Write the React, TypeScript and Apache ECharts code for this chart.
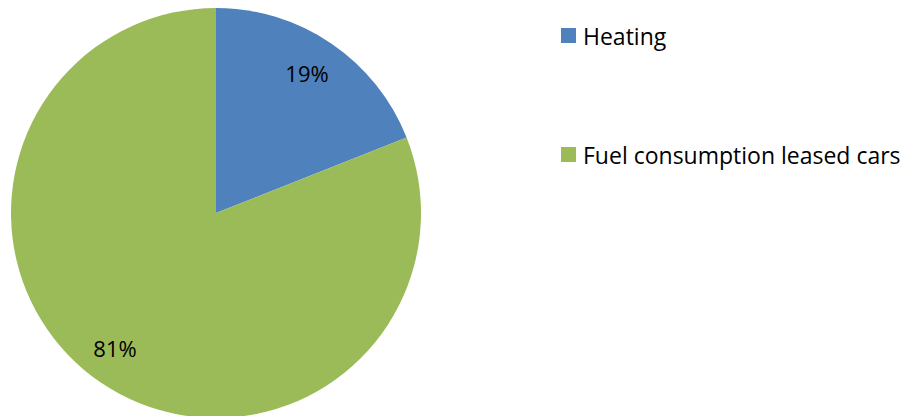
import React, { useEffect, useRef } from "react";
import * as echarts from "echarts";

const categories = ["Heating", "Fuel consumption leased cars"];
const values = [19, 81];
const colors = ["#4F81BD", "#9BBB59"];
const labelOffsets = [[-4, 0], [-6, -5]];

export default function App() {
  const ref = useRef<HTMLDivElement>(null);
  useEffect(() => {
    document.body.style.margin = "0";
    const chart = echarts.init(ref.current!, null, { renderer: "svg" });
    const data = categories.map((name, i) => ({ name, value: values[i] }));
    const labelData = categories.map((name, i) => ({
      name,
      value: values[i],
      label: { offset: labelOffsets[i] },
    }));
    const font = "Open Sans";
    const legendBase = {
      left: 561,
      orient: "vertical",
      icon: "rect",
      itemWidth: 15,
      itemHeight: 15,
      itemGap: 0,
      padding: 0,
      selectedMode: false,
      textStyle: { fontFamily: font, fontSize: 23, color: "#000", padding: [0, 0, 0, 2] },
    };
    chart.setOption({
      animation: false,
      color: colors,
      legend: [
        { ...legendBase, data: [categories[0]], top: 24 },
        { ...legendBase, data: [categories[1]], top: 143 },
      ],
      series: [
        {
          type: "pie",
          center: [216, 213],
          radius: 205,
          startAngle: 90,
          clockwise: true,
          data,
          label: { show: false },
          labelLine: { show: false },
          silent: true,
        },
        {
          type: "pie",
          center: [216, 213],
          radius: 332,
          startAngle: 90,
          clockwise: true,
          data: labelData,
          silent: true,
          itemStyle: { color: "rgba(0,0,0,0)" },
          label: {
            show: true,
            position: "inside",
            formatter: "{d}%",
            fontFamily: font,
            fontSize: 22,
            color: "#000",
          },
          labelLine: { show: false },
        },
      ],
    });
    return () => chart.dispose();
  }, []);
  return <div ref={ref} style={{ width: 906, height: 416 }} />;
}
